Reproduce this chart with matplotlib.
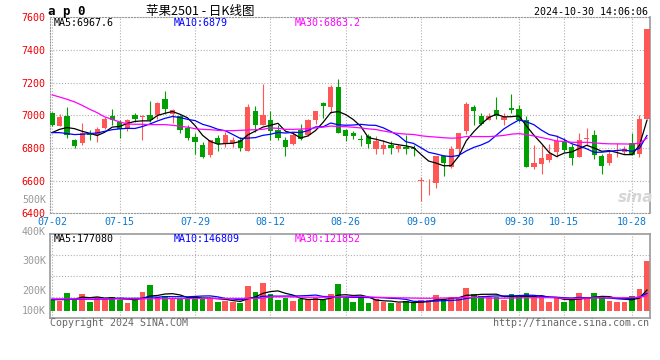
import matplotlib.pyplot as plt
import numpy as np
import pandas as pd

# Daily candles for 苹果2501 (07-02 .. 10-30)
opens = [7014, 6935, 6994, 6847, 6831, 6894, 6878, 6923, 6994, 6959,
         6914, 7000, 6990, 7000, 7000, 7098, 7010, 6996, 6925, 6865,
         6816, 6759, 6861, 6833, 6833, 6847, 6782, 7025, 6943, 6969,
         6908, 6851, 6822, 6912, 6882, 6969, 7078, 7051, 7171, 6908,
         6892, 6853, 6871, 6796, 6792, 6816, 6792, 6806, 6802, 6598,
         6596, 6588, 6749, 6684, 6796, 6902, 7049, 6994, 6973, 7031,
         6973, 7045, 7037, 6969, 6684, 6700, 6725, 6775, 6843, 6806,
         6745, 6853, 6878, 6749, 6706, 6780, 6775, 6831, 6765, 6980]
closes = [6939, 6988, 6878, 6812, 6894, 6878, 6918, 6980, 6969, 6914,
          6973, 6976, 6998, 6969, 7078, 7041, 7030, 6912, 6861, 6837,
          6745, 6847, 6827, 6878, 6847, 6800, 7049, 6943, 7000, 6902,
          6861, 6806, 6878, 6857, 6969, 7025, 7057, 7173, 6892, 6874,
          6874, 6849, 6827, 6843, 6816, 6800, 6812, 6792, 6792, 6604,
          6600, 6749, 6710, 6796, 6892, 7071, 7029, 6945, 6994, 6994,
          6990, 7035, 6969, 6684, 6708, 6739, 6763, 6843, 6790, 6741,
          6847, 6861, 6759, 6690, 6761, 6790, 6796, 6759, 6976, 7527]
highs = [7018, 7010, 7049, 6857, 6955, 6908, 6927, 6988, 7037, 6973,
         6980, 7016, 7004, 7090, 7080, 7147, 7037, 7004, 6939, 6894,
         6837, 6851, 6878, 6898, 6867, 6867, 7071, 7055, 7194, 7025,
         6939, 6865, 6898, 6945, 6980, 7025, 7080, 7184, 7220, 6918,
         6904, 6882, 6888, 6873, 6847, 6843, 6827, 6882, 6816, 6623,
         6608, 6749, 6759, 6812, 6892, 7082, 7061, 7016, 7016, 7112,
         7016, 7133, 7061, 6996, 6820, 6816, 6827, 6878, 6861, 6827,
         6894, 6925, 6908, 6765, 6786, 6831, 6810, 6894, 7000, 7531]
lows = [6935, 6935, 6861, 6800, 6820, 6847, 6837, 6918, 6939, 6861,
        6902, 6959, 6847, 6960, 6980, 7010, 6955, 6894, 6847, 6765,
        6741, 6743, 6780, 6806, 6806, 6780, 6780, 6898, 6939, 6847,
        6847, 6751, 6816, 6847, 6874, 6949, 6984, 7016, 6890, 6841,
        6857, 6812, 6800, 6765, 6765, 6765, 6775, 6765, 6749, 6476,
        6514, 6555, 6629, 6678, 6751, 6888, 6943, 6939, 6969, 6980,
        6943, 7016, 6959, 6684, 6669, 6643, 6714, 6745, 6775, 6694,
        6745, 6816, 6735, 6639, 6694, 6745, 6765, 6755, 6745, 6976]
# volume in thousands of lots
volumes = [100, 86, 150, 103, 142, 75, 117, 103, 117, 92,
           67, 92, 158, 217, 114, 128, 106, 106, 106, 125,
           100, 103, 78, 83, 72, 64, 211, 158, 233, 145,
           92, 111, 83, 97, 97, 106, 92, 145, 225, 111,
           75, 106, 70, 97, 78, 64, 64, 83, 64, 92,
           92, 133, 97, 117, 117, 192, 142, 128, 120, 120,
           92, 142, 117, 150, 106, 125, 75, 106, 75, 92,
           150, 108, 150, 111, 83, 75, 75, 125, 183, 417]

# moving averages at the left edge need history the chart doesn't show
ma5_head = [6894, 6914, 6925, 6918]
ma10_head = [6894, 6894, 6888, 6882, 6884, 6888, 6892, 6902, 6912]
ma30_head = [7125, 7112, 7098, 7082, 7061, 7037, 7016, 6990, 6975, 6959,
             6947, 6945, 6945, 6943, 6943, 6943, 6939, 6933, 6927, 6918,
             6914, 6912, 6908, 6906, 6906, 6908, 6910, 6912, 6914]
vma5_head = [95, 95, 96, 98]
vma10_head = [98, 98, 98, 98, 99, 99, 99, 100, 101]
vma30_head = [101, 101, 101, 101, 101, 101, 101, 101, 101, 101,
              101, 101, 102, 102, 103, 103, 104, 104, 104, 105,
              105, 105, 105, 105, 105, 105, 106, 106, 106]

tick_index = [0, 9, 19, 29, 39, 49, 62, 68, 77]
tick_labels = ['07-02', '07-15', '07-29', '08-12', '08-26', '09-09', '09-30', '10-15', '10-28']
price_levels = [6400, 6600, 6800, 7000, 7200, 7400, 7600]

RED, GREEN = '#ff5656', '#00a000'
MONO = 'DejaVu Sans Mono'
W, H = 660, 360


def box(l, t, r, b):
    return [l / W, 1 - b / H, (r - l) / W, (b - t) / H]


def ma(values, n, head):
    s = pd.Series(values, dtype=float).rolling(n).mean()
    s.iloc[:len(head)] = head
    return s


fig = plt.figure(figsize=(6.6, 3.6), dpi=100)
ax = fig.add_axes(box(50, 17.3, 650, 213.3))
axv = fig.add_axes(box(50, 234, 650, 318))

x = np.arange(len(closes))
o, c = np.array(opens), np.array(closes)
colors = [RED if cc >= oo else GREEN for oo, cc in zip(o, c)]
dots = (0, (1, 1.6))

# price panel
ax.vlines(x, lows, highs, colors=colors, lw=0.8, zorder=2)
ax.bar(x, np.maximum(np.abs(c - o), 3), bottom=np.minimum(o, c), width=0.7,
       color=colors, zorder=3)
ax.plot(x, ma(closes, 5, ma5_head), color='black', lw=0.9, zorder=4)
ax.plot(x, ma(closes, 10, ma10_head), color='#0000ff', lw=0.9, zorder=4)
ax.plot(x, ma(closes, 30, ma30_head), color='#ff00ff', lw=0.9, zorder=4)

ax.set_xlim(-0.27, 79.4)
ax.set_ylim(6400, 7600)
ax.set_yticks(price_levels)
ax.set_yticklabels([str(p) for p in price_levels], color='#ee0000', fontfamily=MONO, fontsize=7.2)
ax.set_xticks(tick_index)
ax.set_xticklabels(tick_labels, color='#0b78cf', fontfamily=MONO, fontsize=7.2)
ax.tick_params(length=0, pad=3)
ax.grid(True, color='#b0b0b0', lw=0.8, linestyle=dots, zorder=0)
for side in ['left', 'top', 'bottom']:
    ax.spines[side].set_linestyle(dots)
    ax.spines[side].set_color('#999999')
    ax.spines[side].set_linewidth(0.8)
ax.spines['right'].set_color('#999999')
ax.spines['right'].set_linewidth(1.2)

# volume panel
axv.bar(x, volumes, width=0.75, color=colors, zorder=2)
axv.plot(x, ma(volumes, 5, vma5_head), color='black', lw=0.9, zorder=3)
axv.plot(x, ma(volumes, 10, vma10_head), color='#0000ff', lw=0.9, zorder=3)
axv.plot(x, ma(volumes, 30, vma30_head), color='#ff00ff', lw=0.9, zorder=3)
axv.set_xlim(-0.27, 79.4)
axv.set_ylim(-58, 642)
axv.set_xticks(tick_index)
axv.set_xticklabels([])
axv.set_yticks([117, 292, 467])
axv.set_yticklabels([])
axv.tick_params(length=0)
axv.grid(True, color='#b0b0b0', lw=0.8, linestyle=dots, zorder=0)
for side in axv.spines.values():
    side.set_color('#999999')
    side.set_linewidth(1.2)


def label(xp, yp, s, **kw):
    kw.setdefault('fontfamily', MONO)
    kw.setdefault('fontsize', 7.2)
    fig.text(xp / W, 1 - yp / H, s, va='center', **kw)


# volume axis labels as drawn by the site
for yp, s in [(311, '100K'), (291, '200K'), (261, '300K'), (232, '400K'), (200, '500K')]:
    label(46, yp, s, ha='right', color='#999999')

# header
label(48, 11, 'a p 0', fontweight='bold', fontsize=9)
label(200, 11, '苹果2501 - 日K线图', ha='center', fontsize=9,
      fontfamily=['Noto Sans CJK SC', 'DejaVu Sans'])
label(648, 12, '2024-10-30 14:06:06', ha='right')
label(54, 23.5, 'MA5:6967.6', color='black')
label(174, 23.5, 'MA10:6879', color='#0000ff')
label(295, 23.5, 'MA30:6863.2', color='#ff00ff')
label(54, 238.5, 'MA5:177080', color='black')
label(174, 238.5, 'MA10:146809', color='#0000ff')
label(295, 238.5, 'MA30:121852', color='#ff00ff')

# watermark and footer
label(636, 197, 'sina', ha='center', fontfamily='DejaVu Sans', fontsize=11,
      fontweight='bold', fontstyle='italic', color='#d6d6d6')
label(50, 323.5, 'Copyright 2024 SINA.COM', color='#666666')
label(649, 323.5, 'http://finance.sina.com.cn', ha='right', color='#666666')

plt.savefig('out.png', dpi=100)
